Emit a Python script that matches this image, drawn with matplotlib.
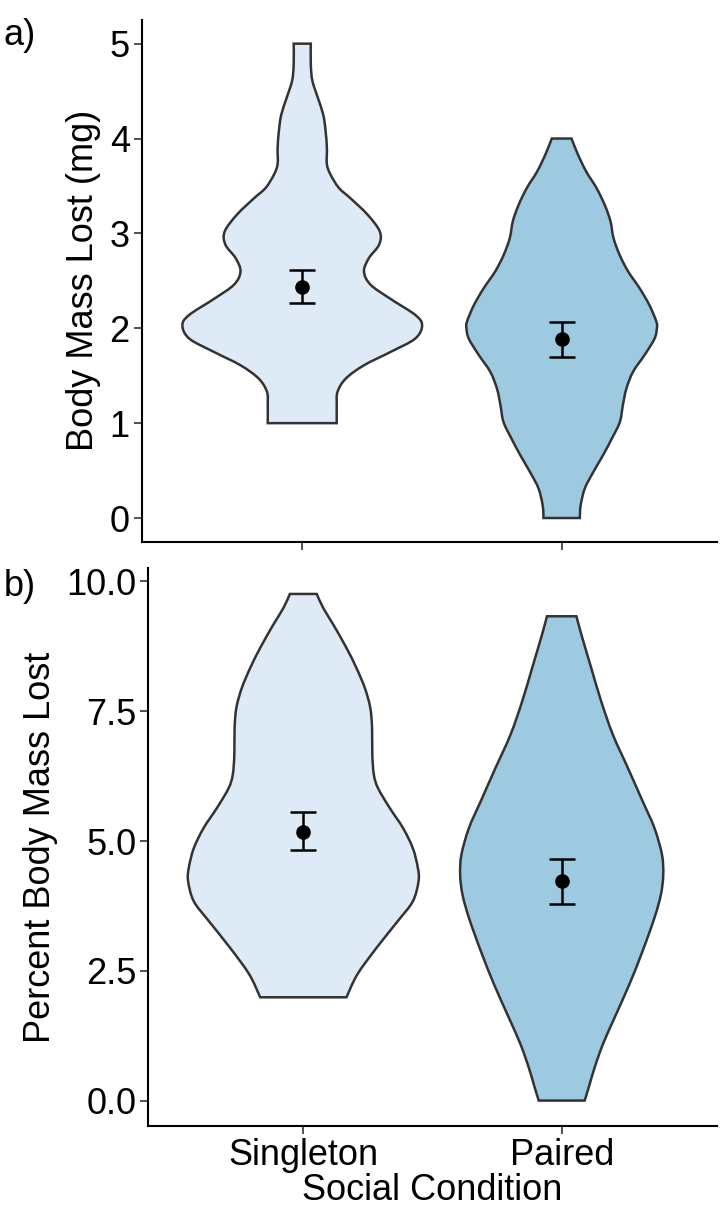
import numpy as np
import matplotlib
matplotlib.use("Agg")
import matplotlib.pyplot as plt
from matplotlib.path import Path
from matplotlib.patches import PathPatch

plt.rcParams['font.family'] = ['Liberation Sans', 'DejaVu Sans']

categories = ["Singleton", "Paired"]

# Panel a: Body Mass Lost (mg) violin profiles (y value, half-width in category units)
a_sing_y = [1.0, 1.19, 1.33, 1.47, 1.61, 1.75, 1.89, 2.03, 2.14, 2.31, 2.46, 2.60, 2.74, 2.88, 3.02,
            3.20, 3.37, 3.48, 3.62, 3.73, 3.90, 4.08, 4.25, 4.43, 4.61, 4.78, 5.0]
a_sing_w = [0.133, 0.133, 0.136, 0.168, 0.238, 0.34, 0.435, 0.462, 0.436, 0.34, 0.263, 0.238, 0.257,
            0.296, 0.299, 0.251, 0.186, 0.141, 0.109, 0.095, 0.095, 0.09, 0.081, 0.06, 0.039, 0.033, 0.033]
a_pair_y = [0.0, 0.13, 0.31, 0.48, 0.66, 0.83, 1.01, 1.19, 1.36, 1.54, 1.72, 1.89, 2.0, 2.07, 2.24,
            2.42, 2.60, 2.77, 2.95, 3.13, 3.30, 3.48, 3.65, 3.83, 4.0]
a_pair_w = [0.07, 0.073, 0.089, 0.121, 0.159, 0.192, 0.224, 0.236, 0.249, 0.275, 0.32, 0.358, 0.367,
            0.365, 0.339, 0.301, 0.256, 0.224, 0.2, 0.188, 0.166, 0.134, 0.095, 0.063, 0.038]

# Panel b: Percent Body Mass Lost violin profiles
b_sing_y = [1.99, 2.43, 2.94, 3.46, 3.84, 4.23, 4.49, 4.86, 5.25, 5.64, 6.02, 6.28, 6.67, 7.18,
            7.57, 7.95, 8.34, 8.72, 9.17, 9.49, 9.76]
b_sing_w = [0.167, 0.209, 0.283, 0.366, 0.424, 0.446, 0.443, 0.424, 0.386, 0.334, 0.289, 0.273,
            0.267, 0.266, 0.259, 0.238, 0.205, 0.167, 0.116, 0.077, 0.052]
b_pair_y = [0.0, 0.31, 0.63, 1.08, 1.59, 2.24, 2.88, 3.52, 3.97, 4.35, 4.74, 5.25, 5.77, 6.41,
            7.05, 7.69, 8.34, 8.98, 9.33]
b_pair_w = [0.089, 0.108, 0.127, 0.159, 0.204, 0.262, 0.313, 0.359, 0.384, 0.393, 0.388, 0.359,
            0.313, 0.256, 0.198, 0.153, 0.114, 0.076, 0.057]

# Means and SE bounds
a_mean = [2.44, 1.89]
a_low = [2.27, 1.70]
a_high = [2.61, 2.07]
b_mean = [5.18, 4.23]
b_low = [4.82, 3.79]
b_high = [5.55, 4.66]

fills = ["#DEEBF7", "#9ECAE1"]
edge = "#333333"


def catmull(pts):
    """Bezier control sequence for a Catmull-Rom curve through pts."""
    pts = np.asarray(pts, float)
    ext = np.vstack([pts[0], pts, pts[-1]])
    verts = []
    for i in range(1, len(ext) - 2):
        p0, p1, p2, p3 = ext[i - 1], ext[i], ext[i + 1], ext[i + 2]
        c1 = p1 + (p2 - p0) / 6.0
        c2 = p2 - (p3 - p1) / 6.0
        verts += [c1, c2, p2]
    return verts


def violin(ax, xc, ys, ws, color):
    ys = np.asarray(ys, float)
    ws = np.asarray(ws, float)
    right = np.column_stack([xc + ws, ys])
    left = np.column_stack([xc - ws, ys])[::-1]
    verts = [right[0]]
    codes = [Path.MOVETO]
    cv = catmull(right)
    verts += cv
    codes += [Path.CURVE4] * len(cv)
    verts.append(left[0])
    codes.append(Path.LINETO)
    cv = catmull(left)
    verts += cv
    codes += [Path.CURVE4] * len(cv)
    verts.append(right[0])
    codes.append(Path.CLOSEPOLY)
    p = PathPatch(Path(verts, codes), facecolor=color, edgecolor=edge, lw=1.8,
                  joinstyle='miter', zorder=2)
    ax.add_patch(p)


fig = plt.figure(figsize=(7.28, 12.16), dpi=100)
axa = fig.add_axes([0.1946, 0.5545, 0.7900, 0.4291])
axb = fig.add_axes([0.2037, 0.0740, 0.7808, 0.4589])

xpos = [1, 2]
for ax, profs, mean, lo, hi in [
    (axa, [(a_sing_y, a_sing_w), (a_pair_y, a_pair_w)], a_mean, a_low, a_high),
    (axb, [(b_sing_y, b_sing_w), (b_pair_y, b_pair_w)], b_mean, b_low, b_high),
]:
    for i, (ys, ws) in enumerate(profs):
        violin(ax, xpos[i], ys, ws, fills[i])
    m = np.array(mean)
    yerr = np.vstack([m - np.array(lo), np.array(hi) - m])
    ax.errorbar(xpos, m, yerr=yerr, fmt='o', color='black', ms=9.5, elinewidth=1.8,
                capsize=9.2, capthick=1.8, zorder=3)
    for s in ['top', 'right']:
        ax.spines[s].set_visible(False)
    for s in ['left', 'bottom']:
        ax.spines[s].set_linewidth(1.5)
        ax.spines[s].set_color('black')
    ax.tick_params(axis='both', length=5.5, width=1.2, color=edge, labelsize=26,
                   labelcolor='black', pad=3)
    ax.set_xticks(xpos)

axa.set_xlim(0.381, 2.598)
axa.set_ylim(-0.25, 5.25)
axa.set_yticks([0, 1, 2, 3, 4, 5])
axa.set_xticklabels([])
axa.set_ylabel("Body Mass Lost (mg)", fontsize=26, labelpad=6)

axb.set_xlim(0.4, 2.6)
axb.set_ylim(-0.49, 10.26)
axb.set_yticks([0, 2.5, 5.0, 7.5, 10.0])
axb.set_yticklabels(["0.0", "2.5", "5.0", "7.5", "10.0"])
axb.set_xticklabels(categories)
axb.set_ylabel("Percent Body Mass Lost", fontsize=26, labelpad=6)
axb.set_xlabel("Social Condition", fontsize=26, labelpad=0)

fig.text(0.005, 0.985, "a)", fontsize=26, va='top', ha='left')
fig.text(0.005, 0.532, "b)", fontsize=26, va='top', ha='left')

fig.savefig("out.png", dpi=100)
